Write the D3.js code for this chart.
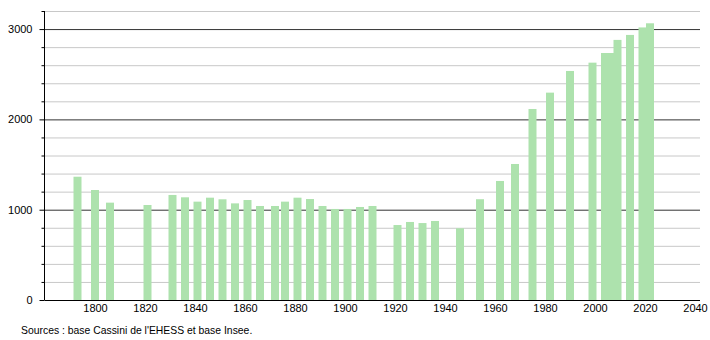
<!DOCTYPE html>
<html>
<head>
<meta charset="utf-8">
<script src="https://cdn.jsdelivr.net/npm/d3@7"></script>
<style>
  body { margin: 0; background: #fff; }
  svg { font-family: "Liberation Sans", Arial, sans-serif; }
</style>
</head>
<body>
<svg></svg>
<script>
// population by census year
const years = [1793, 1800, 1806, 1821, 1831, 1836, 1841, 1846, 1851, 1856,
               1861, 1866, 1872, 1876, 1881, 1886, 1891, 1896, 1901, 1906,
               1911, 1921, 1926, 1931, 1936, 1946, 1954, 1962, 1968, 1975,
               1982, 1990, 1999, 2004, 2006, 2009, 2014, 2019, 2022];
const population = [1365, 1218, 1078, 1052, 1163, 1137, 1089, 1133, 1115, 1070,
                    1107, 1041, 1041, 1089, 1133, 1118, 1041, 1008, 1008, 1030,
                    1041, 830, 864, 852, 875, 794, 1116, 1318, 1506, 2115,
                    2296, 2536, 2628, 2735, 2735, 2880, 2935, 3018, 3064];
const xTicks = [1800, 1820, 1840, 1860, 1880, 1900, 1920, 1940, 1960, 1980, 2000, 2020, 2040];
const yMajor = [0, 1000, 2000, 3000];
const yMinor = [200, 400, 600, 800, 1200, 1400, 1600, 1800, 2200, 2400, 2600, 2800, 3200];
const source = "Sources : base Cassini de l'EHESS et base Insee.";

const width = 710;
const height = 340;

const svg = d3.select("svg")
    .attr("width", width)
    .attr("height", height);

const x = d3.scaleLinear().domain([1780, 2042]).range([45, 700]);
const y = d3.scaleLinear().domain([0, 3200]).range([300, 11]);

// grid lines
svg.append("g")
    .selectAll("line")
    .data(yMinor)
    .join("line")
    .attr("x1", x(1780)).attr("x2", x(2042))
    .attr("y1", d => y(d) + 0.5).attr("y2", d => y(d) + 0.5)
    .attr("stroke", "#c8c8c8");

svg.append("g")
    .selectAll("line")
    .data(yMajor.slice(1))
    .join("line")
    .attr("x1", x(1780)).attr("x2", x(2042))
    .attr("y1", d => y(d) + 0.5).attr("y2", d => y(d) + 0.5)
    .attr("stroke", "#333");

// bars
svg.append("g")
    .selectAll("rect")
    .data(years)
    .join("rect")
    .attr("x", d => x(d) - 4)
    .attr("width", 8)
    .attr("y", (d, i) => y(population[i]))
    .attr("height", (d, i) => y(0) - y(population[i]))
    .attr("fill", "#ade2ad");

// y axis
const yAxis = svg.append("g")
    .attr("transform", "translate(44.5,0)")
    .call(d3.axisLeft(y).tickValues(yMajor).tickSize(5).tickFormat(d3.format("d")));
yAxis.select(".domain").attr("d", `M0,${y(3200)}V${y(0) + 0.5}`);
yAxis.selectAll("text").attr("font-size", 11).attr("font-family", null).attr("x", -12);
yAxis.append("g")
    .selectAll("line")
    .data(yMinor)
    .join("line")
    .attr("x1", -3).attr("x2", 0)
    .attr("y1", d => y(d) + 0.5).attr("y2", d => y(d) + 0.5)
    .attr("stroke", "#000");

// x axis
const xAxis = svg.append("g")
    .attr("transform", `translate(0,${y(0) + 0.5})`)
    .call(d3.axisBottom(x).tickValues(xTicks).tickSize(0).tickPadding(4).tickFormat(d3.format("d")));
xAxis.select(".domain").attr("d", `M${x(1780)},0H${x(2042)}`);
xAxis.selectAll("text").attr("font-size", 11).attr("font-family", null);

svg.append("text")
    .attr("x", 21)
    .attr("y", 334)
    .attr("font-size", 10.4)
    .text(source);
</script>
</body>
</html>
